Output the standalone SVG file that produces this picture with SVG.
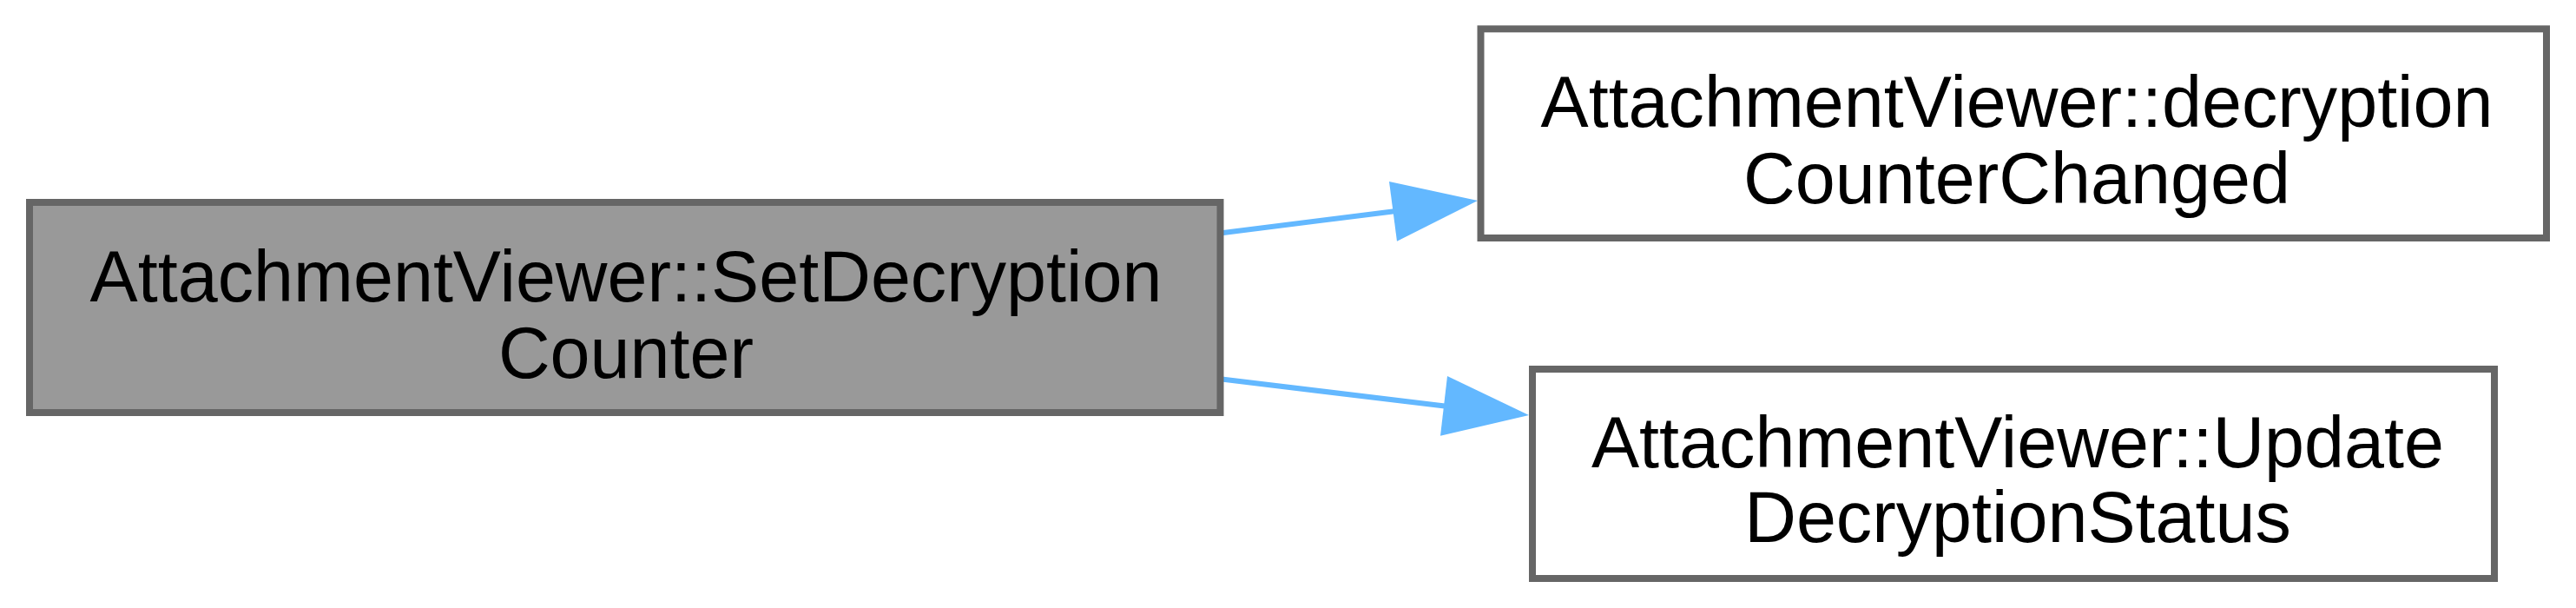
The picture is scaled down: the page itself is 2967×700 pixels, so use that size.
<svg xmlns="http://www.w3.org/2000/svg" width="2967" height="700" viewBox="0 0 2967 700">
<style>
.node rect{stroke:#666666;stroke-width:8}
.main rect{fill:#999999}
.leaf rect{fill:#ffffff}
text{font-family:"Liberation Sans",Arial,Helvetica,sans-serif;font-size:82.7px;fill:#000000;text-anchor:middle}
.edge line{stroke:#63b8ff;stroke-width:6;fill:none}
.edge polygon{fill:#63b8ff;stroke:none}
</style>
<rect x="0" y="0" width="2967" height="700" fill="#ffffff"/>
<g id="connectors">
<g class="edge" id="edge1">
<line x1="1405" y1="268.5" x2="1606" y2="243.2"/>
<polygon points="1600,209 1702,231 1609,277.7"/>
</g>
<g class="edge" id="edge2">
<line x1="1405" y1="436.2" x2="1664" y2="467.6"/>
<polygon points="1667,433 1761,478 1659,501.7"/>
</g>
</g>
<g class="node main" id="node1">
<rect x="34" y="233" width="1371.5" height="242"/>
<text x="721" y="347">AttachmentViewer::SetDecryption</text>
<text x="721" y="435">Counter</text>
</g>
<g class="node leaf" id="node2">
<rect x="1705.5" y="33.3" width="1227.5" height="240.7"/>
<text x="2323" y="146">AttachmentViewer::decryption</text>
<text x="2323" y="234">CounterChanged</text>
</g>
<g class="node leaf" id="node3">
<rect x="1765" y="425" width="1108" height="241"/>
<text x="2324" y="538">AttachmentViewer::Update</text>
<text x="2324" y="624">DecryptionStatus</text>
</g>
</svg>
